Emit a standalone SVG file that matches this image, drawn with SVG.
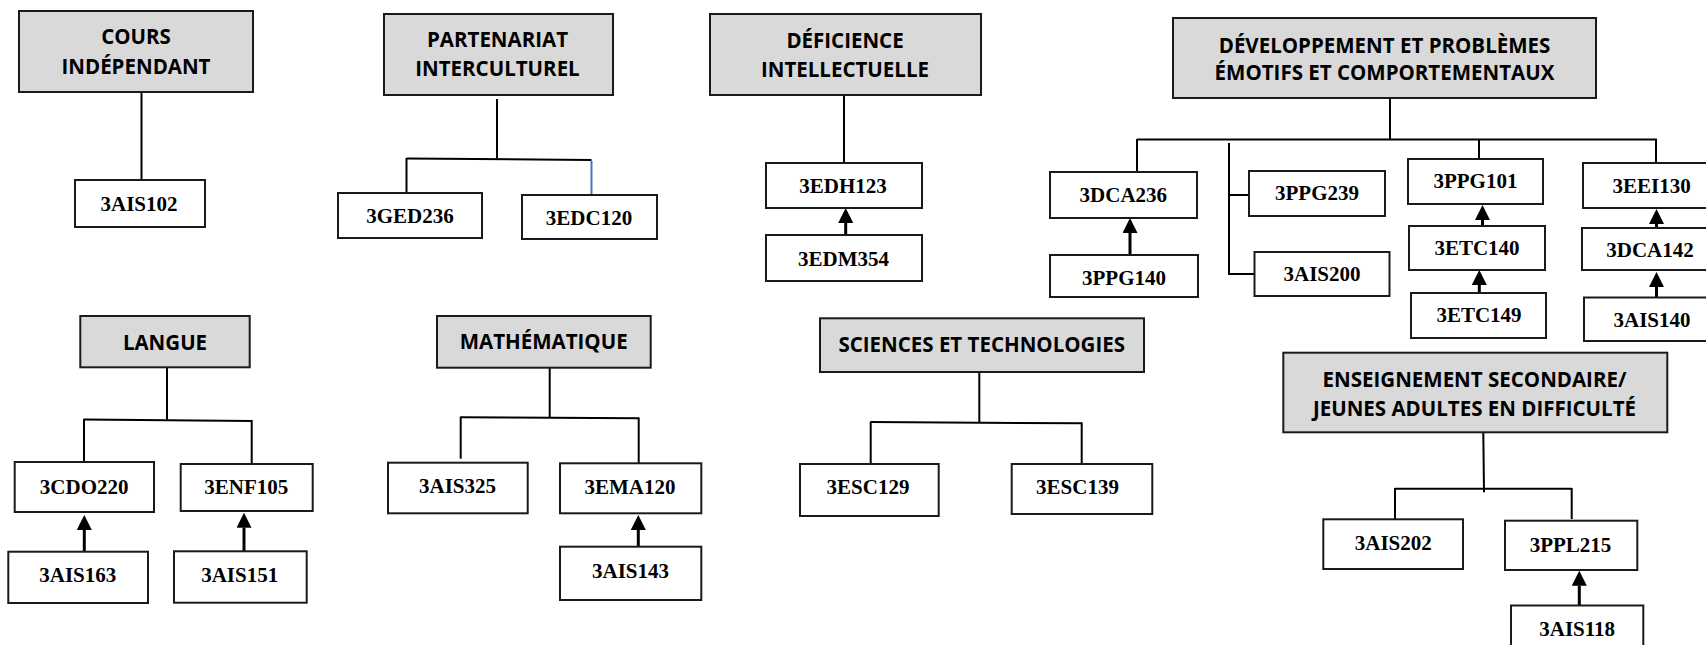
<svg xmlns="http://www.w3.org/2000/svg" width="1706" height="645" viewBox="0 0 1706 645">
<defs>
<style>
.h rect{fill:#D9D9D9;stroke:#1a1a1a;stroke-width:2}
.h text{font-family:"Open Sans","Noto Sans",sans-serif;font-weight:bold;font-size:20.5px;fill:#000;text-anchor:middle}
.c rect{fill:#fff;stroke:#1a1a1a;stroke-width:2}
.c text{font-family:"Liberation Serif","Times New Roman",serif;font-weight:bold;font-size:21px;fill:#000;text-anchor:middle}
.ln{fill:none;stroke:#000;stroke-width:2}
.ar{fill:none;stroke:#000;stroke-width:3;marker-end:url(#tri)}
</style>
<marker id="tri" viewBox="0 0 15 15" refX="0" refY="7.5" markerWidth="15" markerHeight="15" markerUnits="userSpaceOnUse" orient="auto">
<path d="M0,0 L15,7.5 L0,15 Z" fill="#000"/>
</marker>
</defs>
<rect x="0" y="0" width="1706" height="645" fill="#fff"/>

<g id="connectors">
<!-- Cours independant -->
<line class="ln" x1="141.5" y1="92" x2="141.5" y2="180"/>
<!-- Partenariat -->
<line class="ln" x1="497" y1="99" x2="497" y2="158.5"/>
<line class="ln" x1="406.5" y1="158.5" x2="591.5" y2="160"/>
<line class="ln" x1="406.5" y1="158" x2="406.5" y2="193"/>
<line x1="591.5" y1="161" x2="591.5" y2="195" stroke="#4472C4" stroke-width="2"/>
<!-- Deficience -->
<line class="ln" x1="844" y1="95" x2="844" y2="163"/>
<line class="ar" x1="845.7" y1="235" x2="845.7" y2="223"/>
<!-- Developpement -->
<line class="ln" x1="1390" y1="98" x2="1390" y2="139.5"/>
<line class="ln" x1="1137" y1="139.5" x2="1657" y2="139.5"/>
<line class="ln" x1="1137" y1="139" x2="1137" y2="172"/>
<polyline class="ln" points="1229,143 1229,274 1254.5,274"/>
<line class="ln" x1="1229" y1="195" x2="1249" y2="195"/>
<line class="ln" x1="1479" y1="139" x2="1479" y2="159"/>
<line class="ln" x1="1656" y1="139" x2="1656" y2="163"/>
<line class="ar" x1="1130" y1="255" x2="1130" y2="233"/>
<line class="ar" x1="1482.5" y1="226" x2="1482.5" y2="220"/>
<line class="ar" x1="1479.3" y1="293" x2="1479.3" y2="285"/>
<line class="ar" x1="1656.5" y1="228" x2="1656.5" y2="224"/>
<line class="ar" x1="1656.5" y1="297.5" x2="1656.5" y2="287"/>
<!-- Langue -->
<line class="ln" x1="167" y1="367" x2="167" y2="419.5"/>
<line class="ln" x1="83.5" y1="419.5" x2="252.5" y2="421"/>
<line class="ln" x1="84" y1="419" x2="84" y2="462"/>
<line class="ln" x1="251.7" y1="420.5" x2="251.7" y2="464"/>
<line class="ar" x1="84.3" y1="551.7" x2="84.3" y2="530"/>
<line class="ar" x1="244" y1="551.3" x2="244" y2="527.7"/>
<!-- Mathematique -->
<line class="ln" x1="549.7" y1="367.7" x2="549.7" y2="417.3"/>
<line class="ln" x1="460.7" y1="417.3" x2="639" y2="418.3"/>
<line class="ln" x1="460.7" y1="416.5" x2="460.7" y2="458.7"/>
<line class="ln" x1="638.7" y1="417.5" x2="638.7" y2="463"/>
<line class="ar" x1="638.3" y1="546.7" x2="638.3" y2="530"/>
<!-- Sciences -->
<line class="ln" x1="979.3" y1="372" x2="979.3" y2="422"/>
<line class="ln" x1="870.7" y1="422" x2="1082" y2="423.3"/>
<line class="ln" x1="870.7" y1="421.5" x2="870.7" y2="463.3"/>
<line class="ln" x1="1081.7" y1="422.5" x2="1081.7" y2="465.7"/>
<!-- Enseignement -->
<line class="ln" x1="1483.3" y1="432" x2="1484" y2="492.3"/>
<line class="ln" x1="1395" y1="488.7" x2="1571.7" y2="488.7"/>
<line class="ln" x1="1395" y1="488" x2="1395" y2="519.3"/>
<line class="ln" x1="1571.7" y1="488" x2="1571.7" y2="519"/>
<line class="ar" x1="1579.3" y1="605.3" x2="1579.3" y2="585.7"/>
</g>

<g id="h-cours" class="h"><rect x="19" y="11" width="234" height="81"/><text x="136" y="44">COURS</text><text x="136" y="74">INDÉPENDANT</text></g>
<g id="h-partenariat" class="h"><rect x="384" y="14" width="229" height="81"/><text x="497.5" y="46.7">PARTENARIAT</text><text x="497.5" y="76">INTERCULTUREL</text></g>
<g id="h-deficience" class="h"><rect x="710" y="14" width="271" height="81"/><text x="845" y="47.7">DÉFICIENCE</text><text x="845" y="76.7">INTELLECTUELLE</text></g>
<g id="h-developpement" class="h"><rect x="1173" y="18" width="423" height="80"/><text x="1384.5" y="52.7">DÉVELOPPEMENT ET PROBLÈMES</text><text x="1384.5" y="80">ÉMOTIFS ET COMPORTEMENTAUX</text></g>
<g id="h-langue" class="h"><rect x="80.3" y="316" width="169.4" height="51.3"/><text x="165" y="350">LANGUE</text></g>
<g id="h-math" class="h"><rect x="437" y="316" width="213.7" height="51.7"/><text x="543.7" y="349.3">MATHÉMATIQUE</text></g>
<g id="h-sciences" class="h"><rect x="820" y="318.3" width="324" height="53.7"/><text x="981.7" y="351.7">SCIENCES ET TECHNOLOGIES</text></g>
<g id="h-enseignement" class="h"><rect x="1283.3" y="352.7" width="384" height="79.6"/><text x="1474.5" y="386.7">ENSEIGNEMENT SECONDAIRE/</text><text x="1474.5" y="415.7">JEUNES ADULTES EN DIFFICULTÉ</text></g>

<g id="n-3AIS102" class="c"><rect x="75" y="180" width="130" height="47"/><text x="139" y="210.7">3AIS102</text></g>
<g id="n-3GED236" class="c"><rect x="338" y="193" width="144" height="45"/><text x="410" y="222.7">3GED236</text></g>
<g id="n-3EDC120" class="c"><rect x="522" y="195" width="135" height="44"/><text x="589" y="225">3EDC120</text></g>
<g id="n-3EDH123" class="c"><rect x="766" y="163" width="156" height="45"/><text x="843" y="192.7">3EDH123</text></g>
<g id="n-3EDM354" class="c"><rect x="766" y="235" width="156" height="46"/><text x="843.5" y="265.7">3EDM354</text></g>
<g id="n-3DCA236" class="c"><rect x="1050" y="172" width="147" height="46"/><text x="1123.3" y="201.7">3DCA236</text></g>
<g id="n-3PPG140" class="c"><rect x="1050" y="255" width="148" height="42"/><text x="1124" y="285">3PPG140</text></g>
<g id="n-3PPG239" class="c"><rect x="1249" y="171" width="136" height="45"/><text x="1317" y="200">3PPG239</text></g>
<g id="n-3AIS200" class="c"><rect x="1254.5" y="252" width="135" height="44"/><text x="1322" y="281">3AIS200</text></g>
<g id="n-3PPG101" class="c"><rect x="1408" y="159" width="135" height="45"/><text x="1475.4" y="188.3">3PPG101</text></g>
<g id="n-3ETC140" class="c"><rect x="1409" y="226" width="136" height="44"/><text x="1477" y="255">3ETC140</text></g>
<g id="n-3ETC149" class="c"><rect x="1411" y="293" width="135" height="45"/><text x="1479" y="321.7">3ETC149</text></g>
<g id="n-3EEI130" class="c"><rect x="1583" y="163" width="140" height="45"/><text x="1651.7" y="192.7">3EEI130</text></g>
<g id="n-3DCA142" class="c"><rect x="1582" y="228" width="140" height="42"/><text x="1650" y="256.7">3DCA142</text></g>
<g id="n-3AIS140" class="c"><rect x="1584" y="297.5" width="140" height="43.5"/><text x="1652" y="326.7">3AIS140</text></g>
<g id="n-3CDO220" class="c"><rect x="14.7" y="462" width="139.3" height="50"/><text x="84.2" y="494">3CDO220</text></g>
<g id="n-3ENF105" class="c"><rect x="180.7" y="464" width="132" height="47"/><text x="246.3" y="494.3">3ENF105</text></g>
<g id="n-3AIS163" class="c"><rect x="8.3" y="551.7" width="139.7" height="51.3"/><text x="77.8" y="582.3">3AIS163</text></g>
<g id="n-3AIS151" class="c"><rect x="174" y="551.3" width="132.7" height="51.4"/><text x="239.7" y="582.3">3AIS151</text></g>
<g id="n-3AIS325" class="c"><rect x="388" y="462.7" width="139.7" height="50.6"/><text x="457.5" y="492.7">3AIS325</text></g>
<g id="n-3EMA120" class="c"><rect x="560" y="463.3" width="141.3" height="50"/><text x="630" y="494">3EMA120</text></g>
<g id="n-3AIS143" class="c"><rect x="560" y="546.7" width="141.3" height="53.3"/><text x="630.5" y="577.7">3AIS143</text></g>
<g id="n-3ESC129" class="c"><rect x="800" y="464" width="138.7" height="52"/><text x="868" y="494">3ESC129</text></g>
<g id="n-3ESC139" class="c"><rect x="1011.7" y="464" width="140.6" height="50"/><text x="1077.5" y="494.3">3ESC139</text></g>
<g id="n-3AIS202" class="c"><rect x="1323.3" y="519.3" width="139.7" height="49.7"/><text x="1393.3" y="550">3AIS202</text></g>
<g id="n-3PPL215" class="c"><rect x="1505" y="520.7" width="132.3" height="49.3"/><text x="1570.5" y="551.7">3PPL215</text></g>
<g id="n-3AIS118" class="c"><rect x="1511" y="605.5" width="132.3" height="50"/><text x="1577.2" y="636">3AIS118</text></g>
</svg>
